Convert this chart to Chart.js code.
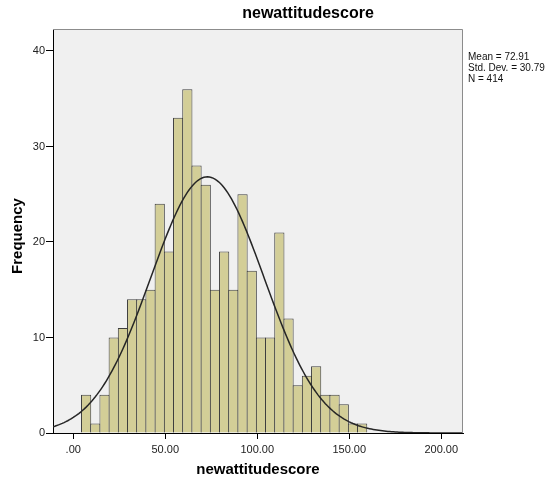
<!DOCTYPE html>
<html>
<head>
<meta charset="utf-8">
<script src="https://cdn.jsdelivr.net/npm/chart.js@4/dist/chart.umd.min.js"></script>
<style>
  html, body { margin: 0; padding: 0; background: #fff; }
  canvas { display: block; }
</style>
</head>
<body>
<canvas id="hist" width="558" height="485"></canvas>
<script>
// Histogram of newattitudescore, bins of width 5
const binLowerEdges = [4.5, 9.5, 14.5, 19.5, 24.5, 29.5, 34.5, 39.5, 44.5, 49.5,
  54.5, 59.5, 64.5, 69.5, 74.5, 79.5, 84.5, 89.5, 94.5, 99.5,
  104.5, 109.5, 114.5, 119.5, 124.5, 129.5, 134.5, 139.5, 144.5, 149.5, 154.5];
const binWidth = 5;
const frequencies = [4, 1, 4, 10, 11, 14, 14, 15, 24, 19,
  33, 36, 28, 26, 15, 19, 15, 25, 17, 10,
  10, 21, 12, 5, 6, 7, 4, 4, 3, 1, 1];

// Summary statistics shown beside the plot
const statMean = 72.91;
const statSD = 30.79;
const statN = 414;

// Axis tick values
const xTickValues = [0, 50, 100, 150, 200];
const yTickValues = [0, 10, 20, 30, 40];

const chartTitle = 'newattitudescore';
const xTitle = 'newattitudescore';
const yTitle = 'Frequency';

const FONT = '"Liberation Sans", Arial, sans-serif';

const barPoints = binLowerEdges.map((lo, i) => ({ x: lo + binWidth / 2, y: frequencies[i] }));

// Fitted normal curve, scaled to counts: N * binWidth * pdf(x)
const curvePoints = [];
for (let x = -11; x <= 212; x += 1) {
  const z = (x - statMean) / statSD;
  curvePoints.push({ x, y: statN * binWidth * Math.exp(-0.5 * z * z) / (statSD * Math.sqrt(2 * Math.PI)) });
}

const decor = {
  id: 'decor',
  beforeDraw(chart) {
    const { ctx, chartArea: a } = chart;
    ctx.save();
    ctx.fillStyle = '#ffffff';
    ctx.fillRect(0, 0, chart.width, chart.height);
    ctx.fillStyle = '#f0f0f0';
    ctx.fillRect(a.left, a.top, a.right - a.left, a.bottom - a.top);
    ctx.restore();
  },
  afterDraw(chart) {
    const { ctx, chartArea: a } = chart;
    ctx.save();
    // top and right frame
    ctx.strokeStyle = '#8c8c8c';
    ctx.lineWidth = 1;
    ctx.beginPath();
    ctx.moveTo(a.left, a.top + 0.5);
    ctx.lineTo(a.right - 0.5, a.top + 0.5);
    ctx.lineTo(a.right - 0.5, a.bottom);
    ctx.stroke();

    ctx.fillStyle = '#000';
    ctx.textBaseline = 'middle';
    ctx.textAlign = 'center';
    ctx.font = 'bold 16px ' + FONT;
    ctx.fillText(chartTitle, 308, 14);

    ctx.font = 'bold 15px ' + FONT;
    ctx.fillText(xTitle, (a.left + a.right) / 2, 470);

    ctx.save();
    ctx.translate(18, 236);
    ctx.rotate(-Math.PI / 2);
    ctx.fillText(yTitle, 0, 0);
    ctx.restore();

    ctx.textAlign = 'left';
    ctx.font = '10px ' + FONT;
    ctx.fillStyle = '#111';
    const lines = ['Mean = ' + statMean.toFixed(2), 'Std. Dev. = ' + statSD.toFixed(2), 'N = ' + statN];
    lines.forEach((t, i) => ctx.fillText(t, 468, 57 + i * 11));
    ctx.restore();
  }
};

new Chart(document.getElementById('hist'), {
  type: 'bar',
  data: {
    datasets: [
      {
        type: 'line',
        data: curvePoints,
        borderColor: '#262626',
        borderWidth: 1.5,
        pointRadius: 0,
        tension: 0,
        fill: false,
        order: 0
      },
      {
        type: 'bar',
        data: barPoints,
        backgroundColor: '#d3ce97',
        borderColor: '#3e3e3e',
        // each bar overlaps its neighbour by one pixel so shared edges stay single lines
        borderWidth: { top: 1, left: 1, right: 1, bottom: 0 },
        borderSkipped: false,
        barPercentage: 1.11,
        categoryPercentage: 1,
        order: 1
      }
    ]
  },
  options: {
    responsive: false,
    devicePixelRatio: 1,
    animation: false,
    events: [],
    layout: { padding: { left: 0, right: 95, top: 29, bottom: 0 } },
    plugins: { legend: { display: false }, tooltip: { enabled: false }, title: { display: false } },
    scales: {
      x: {
        type: 'linear',
        min: -11,
        max: 211.8,
        offset: false,
        afterFit(s) { s.height = 52; },
        afterBuildTicks(s) { s.ticks = xTickValues.map(v => ({ value: v })); },
        grid: { offset: false, drawOnChartArea: false, drawTicks: true, tickLength: 6, color: '#000' },
        border: { display: true, color: '#000', width: 1 },
        ticks: {
          padding: 4,
          color: '#222',
          font: { family: FONT, size: 11 },
          maxRotation: 0,
          callback: (v) => (v === 0 ? '.00' : v.toFixed(2))
        }
      },
      y: {
        type: 'linear',
        min: 0,
        max: 42.3,
        afterFit(s) { s.width = 53; },
        afterBuildTicks(s) { s.ticks = yTickValues.map(v => ({ value: v })); },
        grid: { drawOnChartArea: false, drawTicks: true, tickLength: 7, color: '#000' },
        border: { display: true, color: '#000', width: 1 },
        ticks: {
          padding: 1,
          color: '#222',
          font: { family: FONT, size: 11 },
          callback: (v) => String(v)
        }
      }
    }
  },
  plugins: [decor]
});
</script>
</body>
</html>
